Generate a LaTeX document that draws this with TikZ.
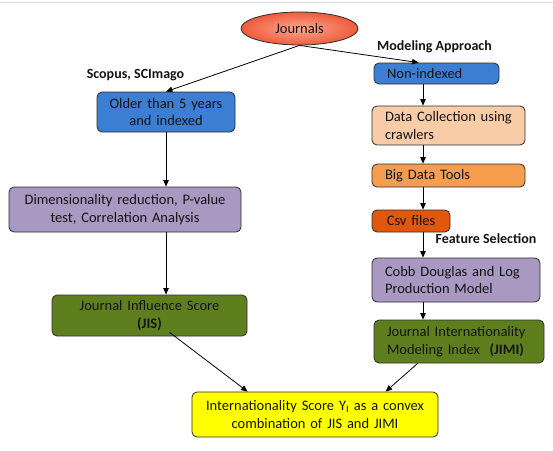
\documentclass[tikz,border=0pt]{standalone}
\usepackage{fontspec}
\setmainfont{Carlito}
\usetikzlibrary{arrows.meta,shapes.geometric,calc}
\definecolor{bline}{HTML}{2E2E2E}
\definecolor{txt}{HTML}{141414}
\definecolor{cblue}{HTML}{3C7ED2}
\definecolor{cpurple}{HTML}{A898C2}
\definecolor{colive}{HTML}{5F7F1F}
\definecolor{cyellow}{HTML}{FFFF00}
\definecolor{cpeach}{HTML}{F9CCA8}
\definecolor{corange}{HTML}{F79E4E}
\definecolor{ccsv}{HTML}{E1580C}
\definecolor{ered}{HTML}{EF5B3C}
\definecolor{elight}{HTML}{FBA891}
\begin{document}
\begin{tikzpicture}[x=1pt,y=-1pt,
  box/.style={draw=bline, line width=0.8pt, rounded corners=5pt, inner ysep=0pt,
    font=\fontsize{14.5}{17.5}\selectfont, text=txt},
  cbox/.style={box, align=center, inner xsep=4pt},
  lbox/.style={box, align=left, inner xsep=13pt},
  arr/.style={-{Triangle[length=6.5pt,width=5.5pt]}, line width=0.8pt, draw=black},
  lab/.style={font=\bfseries\fontsize{14}{16}\selectfont, inner sep=0pt, text=txt}]
\useasboundingbox (0,0) rectangle (553,450);
\draw[line width=0.8pt, black!13] (0,2) -- (553,2);

% ellipse
\node[ellipse, draw=bline, line width=0.8pt, inner color=elight, outer color=ered,
  minimum width=117pt, minimum height=33pt, font=\fontsize{14.5}{17.5}\selectfont, text=txt]
  (jour) at (299.5,28.5) {Journals};

% left column
\node[cbox, fill=cblue, minimum width=138pt, minimum height=40pt, text width=130pt]
  (older) at (166,112) {Older than 5 years\\and indexed};
\node[cbox, fill=cpurple, minimum width=232pt, minimum height=45pt, text width=224pt]
  (dim) at (125,209.5) {Dimensionality reduction, P-value\\test, Correlation Analysis};
\node[cbox, fill=colive, minimum width=195pt, minimum height=41pt, text width=187pt]
  (jis) at (149.5,315.5) {Journal Influence Score\\\textbf{(JIS)}};
\node[cbox, fill=cyellow, minimum width=246pt, minimum height=45pt, text width=238pt]
  (final) at (315,414.5) {Internationality Score Y\textsubscript{I} as a convex\\combination of JIS and JIMI};

% right column
\node[lbox, fill=cblue, minimum width=125pt, minimum height=21pt, text width=99pt]
  (nonidx) at (436.5,73.5) {Non-indexed};
\node[lbox, fill=cpeach, minimum width=153pt, minimum height=39pt, text width=127pt]
  (data) at (448.5,125.5) {Data Collection using\\crawlers};
\node[lbox, fill=corange, minimum width=153pt, minimum height=23pt, text width=127pt]
  (big) at (448.5,175.5) {Big Data Tools};
\node[cbox, fill=ccsv, minimum width=78pt, minimum height=22pt, text width=70pt]
  (csv) at (411,221) {Csv files};
\node[lbox, fill=cpurple, minimum width=168pt, minimum height=44pt, text width=142pt]
  (cobb) at (456,280) {Cobb Douglas and Log\\Production Model};
\node[lbox, fill=colive, minimum width=170pt, minimum height=43pt, text width=144pt]
  (jimi) at (459,341.5) {Journal Internationality\\Modeling Index\ \ \textbf{(JIMI)}};

% labels
\node[lab] (scopus) at (135.5,75) {Scopus, SCImago};
\node[lab] (model) at (434.5,47) {Modeling Approach};
\node[lab] (feat) at (486,239) {Feature Selection};

% connectors
\coordinate (colR) at (423,0);
\draw[arr] (jour.south) -- (older.north);
\draw[arr] (jour.south) -- ($(nonidx.north west)+(45,0)$);
\draw[arr] (older.south) -- (dim.north -| older.south);
\draw[arr] (dim.south -| older.south) -- (jis.north -| older.south);
\draw[arr] ($(jis.south west)+(118,-4)$) -- ($(final.north west)+(56,0)$);
\draw[arr] (nonidx.south -| colR) -- (data.north -| colR);
\draw[arr] (data.south -| colR) -- (big.north -| colR);
\draw[arr] (big.south -| colR) -- (csv.north -| colR);
\draw[arr] (csv.south -| colR) -- (cobb.north -| colR);
\draw[arr] (cobb.south -| colR) -- (jimi.north -| colR);
\draw[arr] ($(jimi.south west)+(44,0)$) -- ($(final.north west)+(194,0)$);
\end{tikzpicture}
\end{document}
